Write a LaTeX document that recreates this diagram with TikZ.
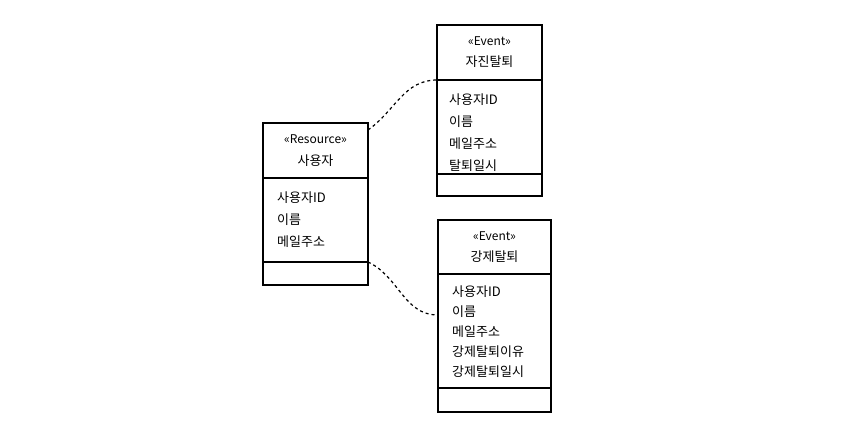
\documentclass[tikz,border=0pt]{standalone}
\usepackage{fontspec}
\setmainfont{Noto Sans CJK KR}
\usetikzlibrary{positioning}
\tikzset{%
  % Specifications for style of class boxes:
        classbase/.style = {rectangle, draw=black, line width=1.6pt,
                            inner sep=0pt, outer sep=0pt},
        classhead/.style = {classbase, align=center,
                            font=\fontsize{13}{22}\selectfont},
         attrline/.style = {anchor=base west, inner sep=0pt,
                            font=\fontsize{13}{15}\selectfont},
        eventlink/.style = {line width=1.2pt, dash pattern=on 3pt off 3pt},
}
\newcommand{\stereo}[1]{{\fontsize{12}{14}\selectfont «#1»}}

\begin{document}
\begin{tikzpicture}[x=1pt, y=1pt, node distance=0pt]
  \useasboundingbox (0,0) rectangle (867,434);
  % Specification of nodes (position, etc.)
  % Resource: 사용자
  \node (userHead) [classhead, anchor=north west, minimum width=105pt,
        minimum height=55pt] at (263,311) {\stereo{Resource}\\사용자};
  \node (userAttr) [classbase, below=of userHead, minimum width=105pt,
        minimum height=84pt] {};
  \node (userOps)  [classbase, below=of userAttr, minimum width=105pt,
        minimum height=23pt] {};
  \foreach \attr [count=\i from 0] in {사용자ID, 이름, 메일주소}
    \node (userAttr\i) [attrline]
      at ([xshift=14pt, yshift={-25pt-22pt*\i}]userAttr.north west) {\attr};
  % Event: 자진탈퇴
  \node (quitHead) [classhead, anchor=north west, minimum width=105pt,
        minimum height=55pt, font=\fontsize{13}{21}\selectfont]
        at (437,409) {\stereo{Event}\\자진탈퇴};
  \node (quitAttr) [classbase, below=of quitHead, minimum width=105pt,
        minimum height=94pt] {};
  \node (quitOps)  [classbase, below=of quitAttr, minimum width=105pt,
        minimum height=22pt] {};
  \foreach \attr [count=\i from 0] in {사용자ID, 이름, 메일주소, 탈퇴일시}
    \node (quitAttr\i) [attrline]
      at ([xshift=12pt, yshift={-25pt-22pt*\i}]quitAttr.north west) {\attr};
  % Event: 강제탈퇴
  \node (banHead) [classhead, anchor=north west, minimum width=113pt,
        minimum height=54pt, font=\fontsize{13}{21}\selectfont]
        at (438,214) {\stereo{Event}\\강제탈퇴};
  \node (banAttr) [classbase, below=of banHead, minimum width=113pt,
        minimum height=114pt] {};
  \node (banOps)  [classbase, below=of banAttr, minimum width=113pt,
        minimum height=24pt] {};
  \foreach \attr [count=\i from 0] in {사용자ID, 이름, 메일주소, 강제탈퇴이유, 강제탈퇴일시}
    \node (banAttr\i) [attrline]
      at ([xshift=14pt, yshift={-22pt-20.2pt*\i}]banAttr.north west) {\attr};
  % Specification of dashed links between the boxes
  \draw[eventlink] ([yshift=-7pt]userHead.north east)
        to[out=35, in=180] (quitHead.south west);
  \draw[eventlink] (userAttr.south east)
        to[out=-25, in=180] ([yshift=16pt]banAttr.west);
\end{tikzpicture}
\end{document}
